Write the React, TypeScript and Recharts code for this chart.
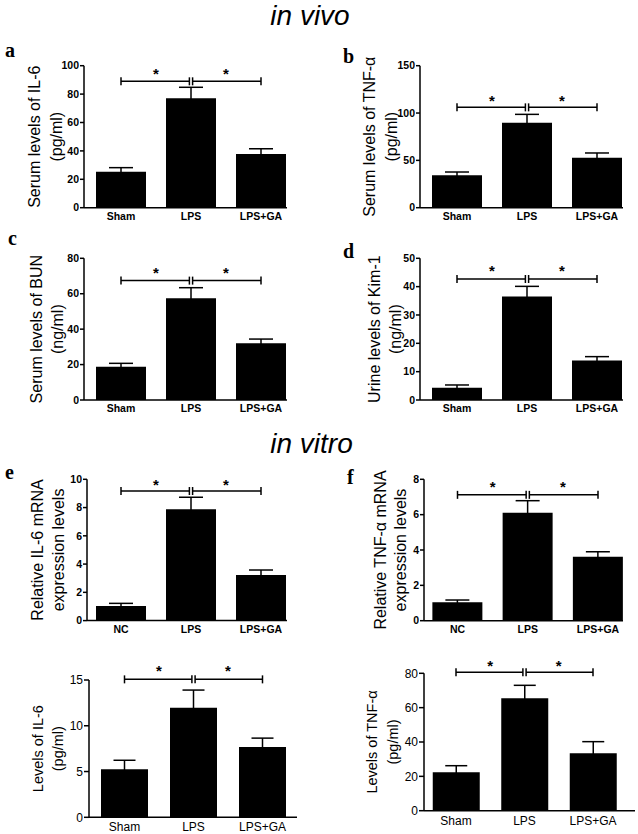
import React from 'react';
import { BarChart, Bar, XAxis, YAxis, ErrorBar, ReferenceLine, ReferenceDot } from 'recharts';

// ---------- data ----------
const inVivoGroups = ['Sham', 'LPS', 'LPS+GA'];
const inVitroGroups = ['NC', 'LPS', 'LPS+GA'];

const serumIL6Mean = [25.4, 77.0, 37.8];
const serumIL6Err = [2.8, 7.8, 3.7];
const serumIL6Ticks = [0, 20, 40, 60, 80, 100];

const serumTNFMean = [34.2, 89.8, 52.8];
const serumTNFErr = [3.5, 8.8, 5.0];
const serumTNFTicks = [0, 50, 100, 150];

const serumBUNMean = [18.8, 57.4, 32.0];
const serumBUNErr = [1.9, 6.0, 2.4];
const serumBUNTicks = [0, 20, 40, 60, 80];

const urineKim1Mean = [4.3, 36.5, 13.9];
const urineKim1Err = [1.0, 3.6, 1.4];
const urineKim1Ticks = [0, 10, 20, 30, 40, 50];

const il6mRNAMean = [1.03, 7.88, 3.23];
const il6mRNAErr = [0.19, 0.85, 0.35];
const il6mRNATicks = [0, 2, 4, 6, 8, 10];

const tnfmRNAMean = [1.04, 6.11, 3.62];
const tnfmRNAErr = [0.13, 0.68, 0.28];
const tnfmRNATicks = [0, 2, 4, 6, 8];

const cellIL6Mean = [5.25, 11.96, 7.67];
const cellIL6Err = [0.98, 1.94, 0.98];
const cellIL6Ticks = [0, 5, 10, 15];

const cellTNFMean = [22.4, 65.5, 33.4];
const cellTNFErr = [3.8, 7.5, 6.8];
const cellTNFTicks = [0, 20, 40, 60, 80];

// significance bracket level and asterisk level (data units) per panel a..h
const bracketLevels = [89, 106, 67.4, 42.7, 9.17, 7.12, 15.07, 80.6];
const starLevels = [96.5, 116.5, 73.5, 46.5, 9.85, 7.75, 16.3, 86.2];

const FONT = '"Liberation Sans", Arial, Helvetica, sans-serif';

type Geo = {
  left: number; top: number; width: number; height: number;
  x0: number; x1: number; c0: number; step: number;
  yTop: number; yBot: number; bar: number; cap: number;
  lx: [number, number]; lsize: number;
  tickSize: number; bold: boolean; xTickGap: number;
};

const YTitle = (props: any) => {
  const { lines, xs, cy, size } = props;
  return (
    <g>
      {lines.map((t: string, i: number) => (
        <text
          key={i}
          x={xs[i]}
          y={cy}
          transform={`rotate(-90 ${xs[i]} ${cy})`}
          textAnchor="middle"
          dominantBaseline="central"
          fontSize={size}
          fontFamily={FONT}
          fill="#000"
        >
          {t}
        </text>
      ))}
    </g>
  );
};

function Panel(props: {
  cats: string[]; means: number[]; errs: number[]; ticks: number[];
  labels: string[]; bracket: number; star: number; geo: Geo;
}) {
  const { cats, means, errs, ticks, labels, bracket, star, geo } = props;
  const data = cats.map((c, i) => ({ x: i, name: c, mean: means[i], err: errs[i] }));
  const XH = 20;
  const margin = {
    top: geo.yTop - geo.top,
    right: geo.left + geo.width - geo.x1,
    bottom: geo.top + geo.height - geo.yBot - XH,
    left: 0,
  };
  const dMin = -(geo.c0 - geo.x0) / geo.step;
  const dMax = dMin + (geo.x1 - geo.x0) / geo.step;
  const yMax = ticks[ticks.length - 1];
  const ppu = (geo.yBot - geo.yTop) / yMax;
  const capH = 4 / ppu;
  const gap = 1.6 / geo.step;
  const sw = 1.5;
  const starSize = 15;
  const cy = (geo.yTop + geo.yBot) / 2 - geo.top;
  const xs = [geo.lx[0] - geo.left, geo.lx[1] - geo.left];
  const tickStyle = {
    fill: '#000',
    fontSize: geo.bold ? 10.5 : 12,
    fontWeight: geo.bold ? 'bold' : 'normal',
    fontFamily: FONT,
  } as any;
  const starShape = (p: any) => (
    <text
      x={p.cx}
      y={p.cy + starSize * 0.55}
      textAnchor="middle"
      fontSize={starSize}
      fontWeight="bold"
      fontFamily={FONT}
      fill="#000"
    >
      *
    </text>
  );
  const seg = (x1: number, y1: number, x2: number, y2: number, k: string) => (
    <ReferenceLine
      key={k}
      segment={[{ x: x1, y: y1 }, { x: x2, y: y2 }]}
      stroke="#000"
      strokeWidth={sw}
      ifOverflow="visible"
    />
  );
  return (
    <div style={{ position: 'absolute', left: geo.left, top: geo.top }}>
      <BarChart width={geo.width} height={geo.height} data={data} margin={margin}>
        <XAxis
          type="number"
          dataKey="x"
          domain={[dMin, dMax]}
          ticks={[0, 1, 2]}
          interval={0}
          allowDataOverflow
          tickFormatter={(v: number) => cats[v] ?? ''}
          tickLine={false}
          tickSize={geo.xTickGap}
          tickMargin={2}
          height={XH}
          axisLine={{ stroke: '#000', strokeWidth: sw }}
          tick={tickStyle}
        />
        <YAxis
          type="number"
          domain={[0, yMax]}
          ticks={ticks}
          interval={0}
          allowDataOverflow
          width={geo.x0 - geo.left}
          tickSize={geo.tickSize}
          tickMargin={1}
          axisLine={{ stroke: '#000', strokeWidth: sw }}
          tickLine={{ stroke: '#000', strokeWidth: sw }}
          tick={tickStyle}
          label={<YTitle lines={labels} xs={xs} cy={cy} size={geo.lsize} />}
        />
        <Bar dataKey="mean" fill="#000" barSize={geo.bar} isAnimationActive={false}>
          <ErrorBar dataKey="err" width={geo.cap} stroke="#000" strokeWidth={sw} direction="y" />
        </Bar>
        {seg(0, bracket, 1 - gap, bracket, 's1')}
        {seg(1 + gap, bracket, 2, bracket, 's2')}
        {seg(0, bracket - capH, 0, bracket + capH, 'c1')}
        {seg(1 - gap, bracket - capH, 1 - gap, bracket + capH, 'c2')}
        {seg(1 + gap, bracket - capH, 1 + gap, bracket + capH, 'c3')}
        {seg(2, bracket - capH, 2, bracket + capH, 'c4')}
        <ReferenceDot x={0.5} y={star} r={0} ifOverflow="visible" shape={starShape} />
        <ReferenceDot x={1.5} y={star} r={0} ifOverflow="visible" shape={starShape} />
      </BarChart>
    </div>
  );
}

const baseA = { x0: 84, x1: 287, c0: 121, step: 70, bar: 50, cap: 12, lsize: 16, tickSize: 4, bold: true, xTickGap: 3 };
const baseB = { x0: 420, x1: 623, c0: 457, step: 70, bar: 50, cap: 12, lsize: 16, tickSize: 4, bold: true, xTickGap: 3 };

const geoA: Geo = { ...baseA, left: 0, top: 45, width: 320, height: 185, yTop: 65.7, yBot: 207.7, lx: [35, 57] };
const geoB: Geo = { ...baseB, left: 320, top: 45, width: 318, height: 185, yTop: 65.7, yBot: 207.7, lx: [370, 392] };
const geoC: Geo = { ...baseA, left: 0, top: 240, width: 320, height: 180, yTop: 258.3, yBot: 400, lx: [37, 58] };
const geoD: Geo = { ...baseB, left: 320, top: 240, width: 318, height: 180, yTop: 258.3, yBot: 400, lx: [375, 396] };
const geoE: Geo = { ...baseA, x0: 87, left: 0, top: 460, width: 320, height: 180, yTop: 479.3, yBot: 620.6, lx: [38, 59] };
const geoF: Geo = { ...baseB, x0: 424, c0: 457.5, step: 70.25, left: 320, top: 460, width: 318, height: 180, yTop: 479.3, yBot: 620.7, lx: [380, 400] };
const geoG: Geo = {
  x0: 89, x1: 297, c0: 124.5, step: 69, bar: 47, cap: 11, lsize: 14.5, tickSize: 5, bold: false, xTickGap: 3,
  left: 0, top: 655, width: 320, height: 179, yTop: 680, yBot: 817.3, lx: [38, 58],
};
const geoH: Geo = {
  x0: 424, x1: 635, c0: 456, step: 68.5, bar: 47, cap: 11, lsize: 14.5, tickSize: 5, bold: false, xTickGap: 4,
  left: 320, top: 650, width: 318, height: 184, yTop: 673.3, yBot: 810.7, lx: [372, 393],
};

const letterStyle = { fontFamily: '"Liberation Serif", "Times New Roman", serif', fontWeight: 'bold' as const, fontSize: 20 };

export default function App() {
  return (
    <div style={{ position: 'absolute', left: 0, top: 0, width: 638, height: 834, background: '#fff', overflow: 'hidden' }}>
      <svg width={638} height={834} style={{ position: 'absolute', left: 0, top: 0 }}>
        <text x={310} y={25} textAnchor="middle" fontFamily={FONT} fontStyle="italic" fontSize={28} fill="#000">in vivo</text>
        <text x={311.5} y={453} textAnchor="middle" fontFamily={FONT} fontStyle="italic" fontSize={28} fill="#000">in vitro</text>
        <text x={5} y={57} {...letterStyle}>a</text>
        <text x={343} y={63} {...letterStyle}>b</text>
        <text x={8} y={245} {...letterStyle}>c</text>
        <text x={343} y={258} {...letterStyle}>d</text>
        <text x={5} y={479} {...letterStyle}>e</text>
        <text x={347} y={484} {...letterStyle}>f</text>
      </svg>
      <Panel cats={inVivoGroups} means={serumIL6Mean} errs={serumIL6Err} ticks={serumIL6Ticks}
        labels={['Serum levels of IL-6', '(pg/ml)']} bracket={bracketLevels[0]} star={starLevels[0]} geo={geoA} />
      <Panel cats={inVivoGroups} means={serumTNFMean} errs={serumTNFErr} ticks={serumTNFTicks}
        labels={['Serum levels of TNF-α', '(pg/ml)']} bracket={bracketLevels[1]} star={starLevels[1]} geo={geoB} />
      <Panel cats={inVivoGroups} means={serumBUNMean} errs={serumBUNErr} ticks={serumBUNTicks}
        labels={['Serum levels of BUN', '(ng/ml)']} bracket={bracketLevels[2]} star={starLevels[2]} geo={geoC} />
      <Panel cats={inVivoGroups} means={urineKim1Mean} errs={urineKim1Err} ticks={urineKim1Ticks}
        labels={['Urine levels of Kim-1', '(ng/ml)']} bracket={bracketLevels[3]} star={starLevels[3]} geo={geoD} />
      <Panel cats={inVitroGroups} means={il6mRNAMean} errs={il6mRNAErr} ticks={il6mRNATicks}
        labels={['Relative IL-6 mRNA', 'expression levels']} bracket={bracketLevels[4]} star={starLevels[4]} geo={geoE} />
      <Panel cats={inVitroGroups} means={tnfmRNAMean} errs={tnfmRNAErr} ticks={tnfmRNATicks}
        labels={['Relative TNF-α mRNA', 'expression levels']} bracket={bracketLevels[5]} star={starLevels[5]} geo={geoF} />
      <Panel cats={inVivoGroups} means={cellIL6Mean} errs={cellIL6Err} ticks={cellIL6Ticks}
        labels={['Levels of IL-6', '(pg/ml)']} bracket={bracketLevels[6]} star={starLevels[6]} geo={geoG} />
      <Panel cats={inVivoGroups} means={cellTNFMean} errs={cellTNFErr} ticks={cellTNFTicks}
        labels={['Levels of TNF-α', '(pg/ml)']} bracket={bracketLevels[7]} star={starLevels[7]} geo={geoH} />
    </div>
  );
}
